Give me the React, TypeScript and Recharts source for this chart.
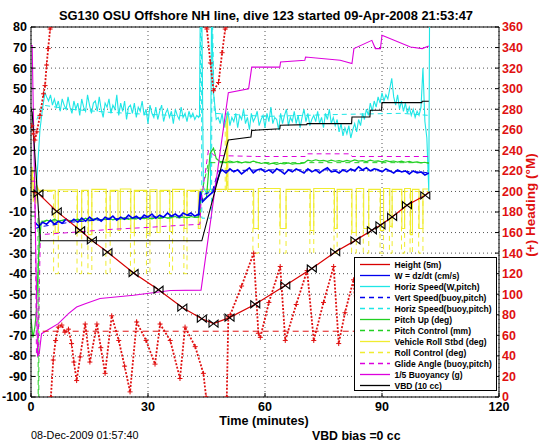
import React from 'react';
import { ComposedChart, Line, XAxis, YAxis, CartesianGrid, ReferenceLine, Legend } from 'recharts';

type Pair = [number, number | null];

const FONT = '"Liberation Sans", Arial, Helvetica, sans-serif';
const RED = '#d80000';
const HEAD_RED = '#e01010';
const BLUE = '#0000ee';
const CYAN = '#1ee6e6';
const GREEN = '#22d022';
const YELLOW = '#f0ec30';
const MAGENTA = '#dd00dd';
const BLACK = '#000000';
const DASH = '5 4';

// ---- axes ----
const timeTicks = [0, 30, 60, 90, 120];
const leftTicks = [-100, -90, -80, -70, -60, -50, -40, -30, -20, -10, 0, 10, 20, 30, 40, 50, 60, 70, 80];
const headingTicks = [0, 20, 40, 60, 80, 100, 120, 140, 160, 180, 200, 220, 240, 260, 280, 300, 320, 340, 360];

// ---- Height (5m) ----
const heightPts: Pair[] = [
  [0, 0], [1.9, -1.0], [6.6, -9.7], [12.6, -18.9], [15.6, -23.8], [19.6, -29.5], [26.3, -39.7],
  [32.7, -47.8], [38.8, -56.5], [43.8, -61.9], [46.8, -64.3], [50.9, -61.4], [57.5, -54.9],
  [65.2, -45.7], [72.0, -37.5], [78.0, -29.5], [83.2, -23.8], [87.4, -18.9], [89.6, -16.5],
  [92.6, -12.4], [96.4, -6.7], [101.1, -1.9], [102.0, -0.3],
];

// ---- W = dz/dt (cm/s) ----
const wDescent = [
  -15, -17, -15, -16, -14, -16, -14.5, -15.5, -13.5, -15,
  -13.5, -15, -13, -14.5, -12.5, -14, -13, -14.5, -12.5, -13.5,
  -12, -14, -12.5, -13.5, -11.5, -13, -12, -13.5, -11.5, -12.5,
  -11, -13, -11.5, -12.5, -10.5, -12, -11, -12.5, -10.5, -11.5,
  -10.5, -12, -11,
];
const wApogee: Pair[] = [[43.4, 0], [44, -5], [45, -3], [46.8, 0], [48.5, 9.5]];
const wClimb = [
  10.5, 9, 11, 9.5, 10.5, 8.5, 10, 11.5, 9, 10.5,
  11, 9.5, 10.5, 9, 11, 10, 8.5, 10.5, 9.5, 11,
  10, 9, 11, 9.5, 10.5, 9, 10.5, 11.5, 9.5, 10,
  9, 10.5, 9.5, 11, 10, 12, 10.5, 11.5, 10, 11,
  10.5, 9.5, 11, 10, 9, 10.5, 9.5, 10, 8.5, 10,
  9, 9.5, 8, 9,
];

// ---- Horiz Speed (W,pitch) ----
const hsStart: Pair[] = [[1.3, 0], [1.8, 15], [2.3, 30], [3.0, 41], [3.6, 48]];
const hsDescent = [
  46, 44, 47, 42, 45,
  41, 44, 39, 45, 42, 40, 46, 41, 38, 44,
  40, 43, 37, 45, 41, 39, 47, 42, 38, 43,
  44, 39, 46, 40, 36, 43, 41, 45, 38, 42,
  40, 47, 37, 43, 39, 44, 35, 41, 42, 38,
  43, 36, 41, 39, 44, 37, 40, 33, 42, 38,
  36, 41, 35, 39, 42, 34, 38, 40, 36, 39,
  33, 40, 37, 35, 41, 36, 38, 34, 39, 36,
  38, 35, 37, 36,
];
const hsApogee: Pair[] = [
  [43.2, 37], [43.4, 88], [43.8, 88], [44.2, 2], [45.0, -1], [46.0, 1], [46.3, 88], [46.8, 48], [47.5, 35],
];
const hsClimb = [
  36, 33, 38, 31, 35, 39, 32, 36, 34, 38,
  31, 37, 35, 40, 33, 36, 30, 38, 34, 36,
  39, 32, 35, 37, 31, 38, 34, 41, 33, 36,
  35, 30, 38, 33, 37, 40, 32, 36, 34, 39,
  33, 37, 31, 36, 40, 34, 38, 32, 35, 37,
  34, 39, 33, 36, 31, 38, 35, 40, 33, 36,
  32, 35, 29, 33, 27, 31, 28, 32, 26, 30,
  33, 29, 35, 32, 38, 35, 40, 37, 43, 39,
  44, 41, 46, 43, 48, 44, 47, 45, 50, 55,
  46, 42, 47, 40, 44, 39, 43, 38, 41, 37,
  40, 36, 39, 37, 41, 60, 34, 26,
];
const hsEnd: Pair[] = [[102.0, 0], [102.2, 88]];

// ---- Vert Speed (buoy,pitch) ----
const vertBuoy: Pair[] = [
  [1, -18], [3, -17], [10, -15], [20, -13.5], [30, -12.5], [43.2, -11.5], [43.5, -2], [46.5, 0],
  [48, 10], [60, 10.5], [80, 10.5], [100, 9.5], [102, 9],
];

// ---- Horiz Speed (buoy,pitch) ----
const horizBuoy: Pair[] = [
  [1.5, 35], [3, 42], [10, 40], [20, 38.5], [30, 37.5], [43.4, 36.5], [43.5, 88], [43.7, 88],
  [43.8, -13], [46.3, -13], [46.4, 88], [46.5, 88], [47, 38], [60, 36.5], [80, 37.5], [95, 38], [102, 37],
];

// ---- Pitch Up (deg) ----
const pitchStart: Pair[] = [[0, -62], [0.5, -71], [1.0, -66], [1.3, -60], [2.0, -30], [2.6, -15]];
const pitchDescent = [
  -15, -14, -14.5, -13.5, -14.5, -14, -13.5, -14.5, -14, -13.5,
  -14, -13, -14, -13.5, -13, -14, -13.5, -13, -13.8, -13.2,
  -13.5, -12.8, -13.6, -13, -13.4, -12.6, -13.2, -12.8, -13.3, -12.6,
  -13, -12.4, -13, -12.6, -12.2, -12.9, -12.4, -12.8, -12.2, -12.6,
  -12.4,
];
const pitchApogee: Pair[] = [[43.4, -2], [44, -4], [45, -3], [45.9, 18.4], [46.8, 21], [47.5, 16], [48.5, 14.5]];
const pitchClimb = [
  14.5, 14, 14.8, 14.2, 14.6, 13.9, 14.4, 14.1, 14.7, 14.2,
  13.6, 14, 13.3, 13.8, 13.2, 13.7, 13.4, 13.9, 13.3, 13.6,
  13.5, 13.9, 15.2, 14.8, 15.4, 14.9, 15.1, 14.6, 15.2, 14.7,
  15, 14.5, 15.1, 14.6, 15.3, 14.8, 15, 14.5, 15.2, 14.7,
  14.9, 14.4, 15, 14.5, 14.8, 14.3, 14.7, 14.2, 14.6, 14.1,
  14.4, 13.9, 14.2, 13.6,
];

// ---- Pitch Control (mm) ----
const pitchControl: Pair[] = [
  [0, -12], [1.8, -12], [1.85, -105], [2.0, -105], [2.05, -14.5], [43.3, -12.5], [43.5, -3], [45.5, 14], [102, 14],
];

// ---- Vehicle Roll Stbd (deg) ----
const rollPts: Pair[] = [
  [0, 2], [0.3, 12], [0.6, -5], [0.9, 8], [1.2, -6], [1.5, 3], [2.0, 0.5],
  [6.2, 0.5], [6.2, -20], [7.0, -20], [7.0, 0.8],
  [11.9, 0.8], [11.9, -20], [13.0, -20], [13.0, 0.5],
  [14.7, 0.5], [14.7, -21], [15.6, -21], [15.6, 1],
  [19.3, 1], [19.3, -20], [20.3, -20], [20.3, 0.5],
  [22.3, 0.5], [22.3, -19], [22.9, -19], [22.9, 1.2],
  [25.6, 1.2], [25.6, -20], [26.5, -20], [26.5, 0.5],
  [29.7, 0.5], [29.7, -20.5], [30.5, -20.5], [30.5, 0.8],
  [32.3, 0.8], [32.3, -20], [33.1, -20], [33.1, 0.5],
  [35.6, 0.5], [35.6, -19.5], [36.3, -19.5], [36.3, 1],
  [39.3, 1], [39.3, -18], [40.0, -18], [40.0, 0.5],
  [42.9, 0.5], [42.9, -18], [43.4, -18], [43.4, 1],
  [50.1, 1], [50.2, 38], [50.4, 38], [50.5, 1],
  [57.1, 1], [57.1, -18], [58.3, -18], [58.3, 1.4],
  [63.9, 1.4], [63.9, -18], [65.4, -18], [65.4, 1],
  [71.6, 1], [71.6, -19], [72.5, -19], [72.5, 1.4],
  [77.8, 1.4], [77.8, -18], [78.5, -18], [78.5, 1],
  [82.3, 1], [82.3, -20], [83.4, -20], [83.4, 1.4],
  [85.3, 1.4], [85.3, -18], [86.6, -18], [86.6, 1],
  [89.6, 1], [89.6, -19], [90.4, -19], [90.4, 1.4],
  [92.0, 1.4], [92.0, -17], [92.6, -17], [92.6, 1],
  [95.1, 1], [95.1, -18], [95.8, -18], [95.8, 1.4],
  [97.3, 1.4], [97.3, -21], [97.8, -21], [97.8, 1],
  [99.5, 1], [99.5, -18], [100.5, -18], [100.5, 1.2],
  [102, 1.2],
];

// ---- Roll Control (deg) ----
const rollControl: Pair[] = [
  [0, 0], [0.5, 10], [1.0, 0],
  [5.8, 0], [5.8, -40], [7.0, -40], [7.0, 0],
  [11.8, 0], [11.8, -40], [13.0, -40], [13.0, 0],
  [14.6, 0], [14.6, -40], [15.6, -40], [15.6, 0],
  [19.2, 0], [19.2, -40], [20.3, -40], [20.3, 0],
  [25.5, 0], [25.5, -40], [26.5, -40], [26.5, 0],
  [29.6, 0], [29.6, -40], [30.5, -40], [30.5, 0],
  [35.5, 0], [35.5, -40], [36.3, -40], [36.3, 0],
  [39.2, 0], [39.2, -40], [40.0, -40], [40.0, 0],
  [49.8, 0], [49.8, 35], [50.4, 35], [50.4, 0],
  [56.9, 0], [56.9, -30], [58.3, -30], [58.3, 0],
  [63.8, 0], [63.8, -30], [65.4, -30], [65.4, 0],
  [71.5, 0], [71.5, -30], [72.5, -30], [72.5, 0],
  [77.7, 0], [77.7, -30], [78.5, -30], [78.5, 0],
  [82.2, 0], [82.2, -30], [83.4, -30], [83.4, 0],
  [85.2, 0], [85.2, -30], [86.6, -30], [86.6, 0],
  [89.5, 0], [89.5, -30], [90.4, -30], [90.4, 0],
  [91.9, 0], [91.9, -30], [92.6, -30], [92.6, 0],
  [95.0, 0], [95.0, -30], [95.8, -30], [95.8, 0],
  [97.2, 0], [97.2, -30], [97.8, -30], [97.8, 0],
  [99.4, 0], [99.4, -30], [100.5, -30], [100.5, 0],
  [102, 0],
];

// ---- Glide Angle (buoy,pitch) ----
const glideAngle: Pair[] = [
  [0, 5], [1.0, 5], [1.4, -80], [1.8, -80], [2.4, -21], [10, -20], [20, -18.5], [30, -17.5], [38, -16.5],
  [43.3, -16], [43.6, -5], [45.5, 20], [47, 17.5], [58, 17], [70.3, 17], [70.5, 18.3], [82, 18.3], [82.3, 17], [102, 17],
];

// ---- 1/5 Buoyancy (g) ----
const buoyancy: Pair[] = [
  [0, 71], [0.3, 71], [1.7, -80], [2.1, -79], [2.7, -69.2], [7, -64.3], [9.6, -59.4], [11.7, -56.2],
  [13.9, -54.6], [17.7, -52.1], [26.3, -50.5], [35.7, -48.2], [43.6, -48], [50.6, 48], [55.8, 50],
  [56.6, 60.5], [63.8, 60.5], [64, 63], [70.2, 63.8], [70.4, 65.4], [79.3, 63.8], [82.3, 62.2],
  [82.8, 69.5], [87.4, 73.5], [88.3, 69.5], [89.6, 69.5], [90, 76], [97.3, 70.3], [100.3, 69.5], [102, 70.8],
];

// ---- VBD (10 cc) ----
const vbd: Pair[] = [
  [0, 40], [0.3, 38.6], [2.4, -24], [43.8, -24], [50.6, 25], [56.4, 26.5], [56.6, 29.7], [63.8, 30.5],
  [63.9, 32.2], [70.7, 32.5], [70.8, 33], [82.2, 33], [82.3, 36.2], [86.9, 36.2], [87.0, 39.5],
  [89.9, 39.5], [90.0, 43.2], [100.2, 43.2], [100.3, 43.9], [102, 43.9],
];

// ---- Heading (deg M, right axis) ----
const headingPts: Pair[] = [
  [0.2, 264], [0.6, 256], [1.0, 250], [1.5, 258], [2.3, 274], [3.2, 295], [3.6, 303], [4.0, 323],
  [4.4, 339], [4.9, 358], [5.05, 360], [5.05, null],
  [5.1, 0], [5.7, 36], [6.3, 55], [7.0, 68], [7.9, 70], [8.7, 63], [9.6, 66], [10.4, 52], [11.0, 34],
  [11.7, 16], [12.6, 39], [13.9, 71], [15.1, 34], [16.9, 71], [17.9, 48], [19.0, 23], [20.7, 79],
  [22.5, 55], [24.0, 30], [25.4, 5], [27.1, 73], [29.5, 55], [31.8, 32], [33.1, 71], [35.7, 55],
  [38.2, 18], [39.5, 68], [42.1, 49], [44.2, 23], [44.9, 0], [44.9, null],
  [44.95, 360], [45.1, 358], [46.0, 325], [46.8, 298], [48.1, 306], [49.0, 335], [49.8, 358], [50.0, 360], [50.0, null],
  [50.2, 0], [50.6, 78], [51.1, 80], [54.0, 108], [57.1, 140], [58.3, 62], [58.8, 58], [61.0, 92],
  [63.9, 127], [65.2, 55], [68.0, 90], [70.8, 123], [72.5, 55], [75.0, 92], [77.6, 127], [78.9, 52],
  [80.5, 82], [82.7, 114], [84.0, 52], [86.5, 90], [89.0, 125], [90.3, 55], [93.0, 92], [95.5, 128],
  [96.8, 52], [99.0, 86], [101.5, 120], [102.0, 118],
];
const desiredHeading: Pair[] = [[3, 64], [102, 64]];

// ---- legend entries ----
const legendItems = [
  { name: 'Height (5m)', color: RED, dash: undefined as string | undefined },
  { name: 'W = dz/dt (cm/s)', color: BLUE, dash: undefined },
  { name: 'Horiz Speed(W,pitch)', color: CYAN, dash: undefined },
  { name: 'Vert Speed(buoy,pitch)', color: BLUE, dash: DASH },
  { name: 'Horiz Speed(buoy,pitch)', color: CYAN, dash: DASH },
  { name: 'Pitch Up (deg)', color: GREEN, dash: undefined },
  { name: 'Pitch Control (mm)', color: GREEN, dash: DASH },
  { name: 'Vehicle Roll Stbd (deg)', color: YELLOW, dash: undefined },
  { name: 'Roll Control (deg)', color: YELLOW, dash: DASH },
  { name: 'Glide Angle (buoy,pitch)', color: MAGENTA, dash: DASH },
  { name: '1/5 Buoyancy (g)', color: MAGENTA, dash: undefined },
  { name: 'VBD (10 cc)', color: BLACK, dash: undefined },
];

// ---- builders ----
const fromPairs = (p: Pair[]) => p.map(([t, v]) => ({ t, v }));
const fromSeries = (t0: number, dt: number, vals: number[]) =>
  vals.map((v, i) => ({ t: Math.round((t0 + i * dt) * 100) / 100, v }));

const heightData = heightPts.map(([t, v], i) => ({ t, v, m: i > 0 && i < heightPts.length - 1 }));
const wData = [...fromSeries(1, 1, wDescent), ...fromPairs(wApogee), ...fromSeries(49, 1, wClimb)];
const hsData = [
  ...fromPairs(hsStart), ...fromSeries(4, 0.5, hsDescent), ...fromPairs(hsApogee),
  ...fromSeries(48, 0.5, hsClimb), ...fromPairs(hsEnd),
];
const pitchData = [
  ...fromPairs(pitchStart), ...fromSeries(3, 1, pitchDescent), ...fromPairs(pitchApogee), ...fromSeries(49, 1, pitchClimb),
];

const HeightDot = (props: any) => {
  const { cx, cy, payload, index } = props;
  if (!payload || !payload.m || cx == null || cy == null) return <g key={`hd${index}`} />;
  return (
    <g key={`hd${index}`}>
      <polygon points={`${cx - 4.5},${cy - 3.5} ${cx},${cy} ${cx - 4.5},${cy + 3.5}`} fill="none" stroke="#000" strokeWidth={1.1} />
      <polygon points={`${cx + 4.5},${cy - 3.5} ${cx},${cy} ${cx + 4.5},${cy + 3.5}`} fill="none" stroke="#000" strokeWidth={1.1} />
    </g>
  );
};

const PlusDot = (props: any) => {
  const { cx, cy, payload, index } = props;
  if (!payload || payload.v == null || cx == null || cy == null) return <g key={`pd${index}`} />;
  return (
    <path key={`pd${index}`} d={`M${cx - 2.5},${cy}h5M${cx},${cy - 2.5}v5`} stroke={HEAD_RED} strokeWidth={1} fill="none" />
  );
};

const renderLegend = () => (
  <div style={{ width: 143, height: 134, border: '1px solid #000', background: '#fff', boxSizing: 'border-box' }}>
    <svg width={141} height={132} style={{ display: 'block' }}>
      {legendItems.map((it, i) => {
        const y = 6.5 + i * 11;
        return (
          <g key={it.name}>
            <line x1={5} x2={35} y1={y} y2={y} stroke={it.color} strokeWidth={1.3} strokeDasharray={it.dash} />
            <text x={39.5} y={y + 3} fontSize={8.5} fontWeight="bold" fontFamily={FONT} fill="#000">{it.name}</text>
          </g>
        );
      })}
    </svg>
  </div>
);

const tickStyle = { fontSize: 12.5, fontWeight: 'bold', fill: '#000', fontFamily: FONT };

export default function App() {
  return (
    <div style={{ position: 'absolute', left: 0, top: 0, width: 546, height: 442, background: '#fff', fontFamily: FONT }}>
      <ComposedChart width={546} height={442} margin={{ top: 27, right: 0, bottom: 25, left: 0 }}>
        <CartesianGrid yAxisId="left" stroke="#555" strokeDasharray="1 3" />
        <XAxis
          type="number" dataKey="t" domain={[0, 120]} ticks={timeTicks} allowDataOverflow height={20}
          tick={tickStyle} tickSize={-4} tickMargin={9} axisLine={{ stroke: '#000' }} tickLine={{ stroke: '#000' }}
        />
        <YAxis
          yAxisId="left" type="number" domain={[-100, 80]} ticks={leftTicks} allowDataOverflow width={31}
          tick={tickStyle} tickSize={-4} tickMargin={8} axisLine={{ stroke: '#000' }} tickLine={{ stroke: '#000' }}
          interval={0}
        />
        <YAxis
          yAxisId="right" orientation="right" type="number" domain={[0, 360]} ticks={headingTicks} allowDataOverflow width={47}
          tick={{ ...tickStyle, fill: HEAD_RED }} tickSize={-4} tickMargin={7} axisLine={{ stroke: '#000' }} tickLine={{ stroke: '#000' }}
          interval={0}
        />
        <ReferenceLine yAxisId="left" y={80} stroke="#000" />

        <Line yAxisId="left" data={fromPairs(rollControl)} dataKey="v" stroke={YELLOW} strokeDasharray={DASH} strokeWidth={1} dot={false} activeDot={false} isAnimationActive={false} />
        <Line yAxisId="left" data={fromPairs(rollPts)} dataKey="v" stroke={YELLOW} strokeWidth={1.1} dot={false} activeDot={false} isAnimationActive={false} />
        <Line yAxisId="left" data={fromPairs(horizBuoy)} dataKey="v" stroke={CYAN} strokeDasharray={DASH} strokeWidth={1} dot={false} activeDot={false} isAnimationActive={false} />
        <Line yAxisId="left" data={hsData} dataKey="v" stroke={CYAN} strokeWidth={1.1} dot={false} activeDot={false} isAnimationActive={false} />
        <Line yAxisId="left" data={fromPairs(pitchControl)} dataKey="v" stroke={GREEN} strokeDasharray={DASH} strokeWidth={1} dot={false} activeDot={false} isAnimationActive={false} />
        <Line yAxisId="left" data={pitchData} dataKey="v" stroke={GREEN} strokeWidth={1.2} dot={false} activeDot={false} isAnimationActive={false} />
        <Line yAxisId="left" data={fromPairs(vertBuoy)} dataKey="v" stroke={BLUE} strokeDasharray={DASH} strokeWidth={1} dot={false} activeDot={false} isAnimationActive={false} />
        <Line yAxisId="left" data={wData} dataKey="v" stroke={BLUE} strokeWidth={1.6} dot={false} activeDot={false} isAnimationActive={false} />
        <Line yAxisId="left" data={fromPairs(glideAngle)} dataKey="v" stroke={MAGENTA} strokeDasharray={DASH} strokeWidth={1} dot={false} activeDot={false} isAnimationActive={false} />
        <Line yAxisId="left" data={fromPairs(buoyancy)} dataKey="v" stroke={MAGENTA} strokeWidth={1.1} dot={false} activeDot={false} isAnimationActive={false} />
        <Line yAxisId="left" data={fromPairs(vbd)} dataKey="v" stroke={BLACK} strokeWidth={1.1} dot={false} activeDot={false} isAnimationActive={false} />

        <Line yAxisId="right" data={fromPairs(desiredHeading)} dataKey="v" stroke={HEAD_RED} strokeDasharray="6 4" strokeWidth={1} dot={false} activeDot={false} isAnimationActive={false} />
        <Line yAxisId="right" data={fromPairs(headingPts)} dataKey="v" stroke={HEAD_RED} strokeWidth={1.8} strokeDasharray="2 1.6" dot={PlusDot} activeDot={false} isAnimationActive={false} />
        <Line yAxisId="left" data={heightData} dataKey="v" stroke={RED} strokeWidth={1.2} dot={HeightDot} activeDot={false} isAnimationActive={false} />

        <Legend
          layout="vertical" align="center" verticalAlign="middle"
          content={renderLegend}
          wrapperStyle={{ left: 354, top: 257, width: 143, height: 134 }}
        />
      </ComposedChart>
      <svg width={546} height={442} style={{ position: 'absolute', left: 0, top: 0, pointerEvents: 'none' }}>
        <text x={266} y={19.5} textAnchor="middle" fontSize={12.9} fontWeight="bold" fontFamily={FONT} fill="#000">
          SG130 OSU Offshore NH line, dive 123 started 09-Apr-2008 21:53:47
        </text>
        <text x={264} y={425} textAnchor="middle" fontSize={12.6} fontWeight="bold" fontFamily={FONT} fill="#000">
          Time (minutes)
        </text>
        <text x={31} y={439} fontSize={10.8} fontFamily={FONT} fill="#000">08-Dec-2009 01:57:40</text>
        <text x={312} y={439.5} fontSize={12.3} fontWeight="bold" fontFamily={FONT} fill="#000">VBD bias =0 cc</text>
        <text transform="translate(535,205) rotate(-90)" textAnchor="middle" fontSize={13.5} fontWeight="bold" fontFamily={FONT} fill={HEAD_RED}>
          (+) Heading (°M)
        </text>
      </svg>
    </div>
  );
}
